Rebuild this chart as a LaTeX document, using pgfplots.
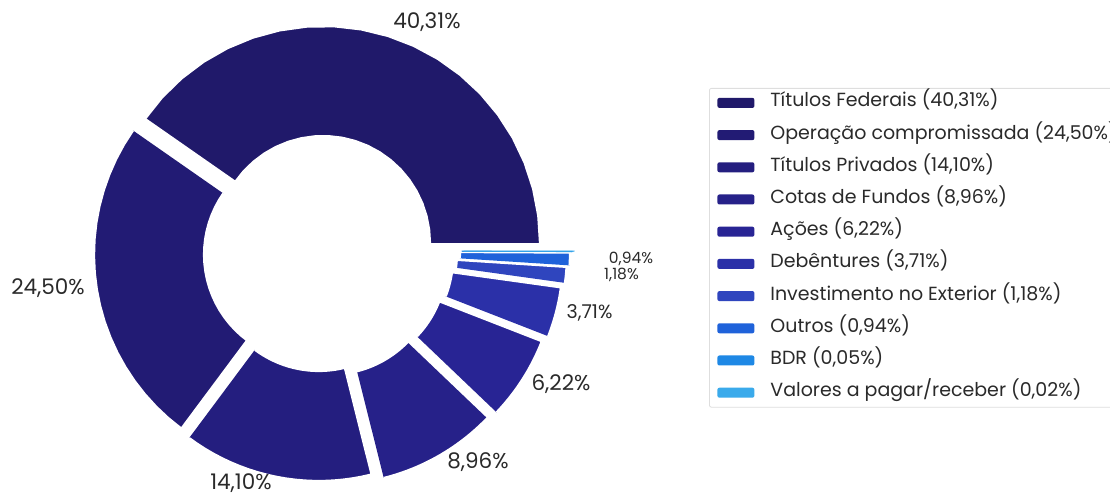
\documentclass[border=0pt]{standalone}
\usepackage{pgfplots}
\pgfplotsset{compat=1.18}
\usepackage{fontspec}
\setmainfont{Poppins}

\definecolor{c1}{HTML}{20196A}
\definecolor{c2}{HTML}{221B74}
\definecolor{c3}{HTML}{241E7F}
\definecolor{c4}{HTML}{262189}
\definecolor{c5}{HTML}{282494}
\definecolor{c6}{HTML}{2B30A8}
\definecolor{c7}{HTML}{2F45BE}
\definecolor{c8}{HTML}{1F62DA}
\definecolor{c9}{HTML}{1E88E5}
\definecolor{c10}{HTML}{3AAAEB}
\definecolor{txt}{HTML}{2A2A2A}

% shares (%)
\def\vA{40.31}\def\vB{24.50}\def\vC{14.10}\def\vD{8.96}\def\vE{6.22}
\def\vF{3.71}\def\vG{1.18}\def\vH{0.94}\def\vI{0.05}\def\vJ{0.02}
\pgfmathsetmacro\aA{0}
\pgfmathsetmacro\aB{\aA+3.6*\vA}
\pgfmathsetmacro\aC{\aB+3.6*\vB}
\pgfmathsetmacro\aD{\aC+3.6*\vC}
\pgfmathsetmacro\aE{\aD+3.6*\vD}
\pgfmathsetmacro\aF{\aE+3.6*\vE}
\pgfmathsetmacro\aG{\aF+3.6*\vF}
\pgfmathsetmacro\aH{\aG+3.6*\vG}
\pgfmathsetmacro\aI{\aH+3.6*\vH}
\pgfmathsetmacro\aJ{\aI+3.6*\vI}
\pgfmathsetmacro\aK{\aJ+3.6*\vJ}

\def\Ro{217}\def\Ri{107}
% #1 start angle, #2 end angle, #3 cx, #4 cy, #5 style
\newcommand\slice[5]{%
\addplot[#5, domain=0:3, samples=61, variable=\t]
 ({#3 + (\Ro-(\Ro-\Ri)*min(max(\t-1,0),1))*cos(#1+(#2-#1)*min(\t,1)-(#2-#1)*max(\t-2,0))},
  {#4 + (\Ro-(\Ro-\Ri)*min(max(\t-1,0),1))*sin(#1+(#2-#1)*min(\t,1)-(#2-#1)*max(\t-2,0))});}

\begin{document}
\begin{tikzpicture}
\useasboundingbox (0,0) rectangle (1110bp,496bp);
\clip (0,0) rectangle (1110bp,496bp);
\begin{axis}[
  at={(0,0)}, anchor=south west,
  width=1110bp, height=496bp, scale only axis,
  xmin=0, xmax=1110, ymin=0, ymax=496,
  hide axis, clip=false,
  legend cell align=left,
  legend image code/.code={\path[#1, draw=none] (0bp,-5bp) rectangle (37bp,5bp);},
  legend style={at={(axis cs:709,408)}, anchor=north west,
    draw=black!13, line width=0.8bp, rounded corners=2bp,
    inner xsep=8bp, inner ysep=6.5bp,
    font=\fontsize{19bp}{22bp}\selectfont, text=txt,
    nodes={inner sep=0pt, text height=12bp, text depth=4bp},
    row sep=16.2bp, column sep=16bp},
]
\slice{\aA}{\aB}{323}{253}{fill=c1, draw=white, line width=2.2bp}
\addlegendentry{Títulos Federais (40,31\%)}
\slice{\aB}{\aC}{311}{241.4}{fill=c2, draw=white, line width=2.2bp}
\addlegendentry{Operação compromissada (24,50\%)}
\slice{\aC}{\aD}{318.8}{232}{fill=c3, draw=white, line width=2.2bp}
\addlegendentry{Títulos Privados (14,10\%)}
\slice{\aD}{\aE}{331}{228.5}{fill=c4, draw=white, line width=2.2bp}
\addlegendentry{Cotas de Fundos (8,96\%)}
\slice{\aE}{\aF}{339.6}{233.5}{fill=c5, draw=white, line width=2.2bp}
\addlegendentry{Ações (6,22\%)}
\slice{\aF}{\aG}{346}{238.5}{fill=c6, draw=white, line width=2.2bp}
\addlegendentry{Debêntures (3,71\%)}
\slice{\aG}{\aH}{350}{243}{fill=c7, draw=white, line width=2.2bp}
\addlegendentry{Investimento no Exterior (1,18\%)}
\slice{\aH}{\aI}{353}{244.5}{fill=c8, draw=white, line width=2.2bp}
\addlegendentry{Outros (0,94\%)}
\slice{\aI}{\aJ}{355}{245}{fill=c9, draw=c9, line width=1bp}
\addlegendentry{BDR (0,05\%)}
\slice{\aJ}{\aK}{357}{245}{fill=c10, draw=c10, line width=1bp}
\addlegendentry{Valores a pagar/receber (0,02\%)}

\begin{scope}[font=\fontsize{21.5bp}{24bp}\selectfont, text=txt]
\node at (axis cs:427,474) {40,31\%};
\node at (axis cs:48,208) {24,50\%};
\node at (axis cs:241,13) {14,10\%};
\node at (axis cs:478,34) {8,96\%};
\node at (axis cs:561,112) {6,22\%};
\end{scope}
\node[font=\fontsize{19bp}{21bp}\selectfont, text=txt] at (axis cs:589.5,183) {3,71\%};
\node[font=\fontsize{15.5bp}{17bp}\selectfont, text=txt, inner sep=1pt] at (axis cs:621.5,221) {1,18\%};
\node[font=\fontsize{15.5bp}{17bp}\selectfont, text=txt, inner sep=1pt] at (axis cs:631,237.5) {0,94\%};
\end{axis}
\end{tikzpicture}
\end{document}
